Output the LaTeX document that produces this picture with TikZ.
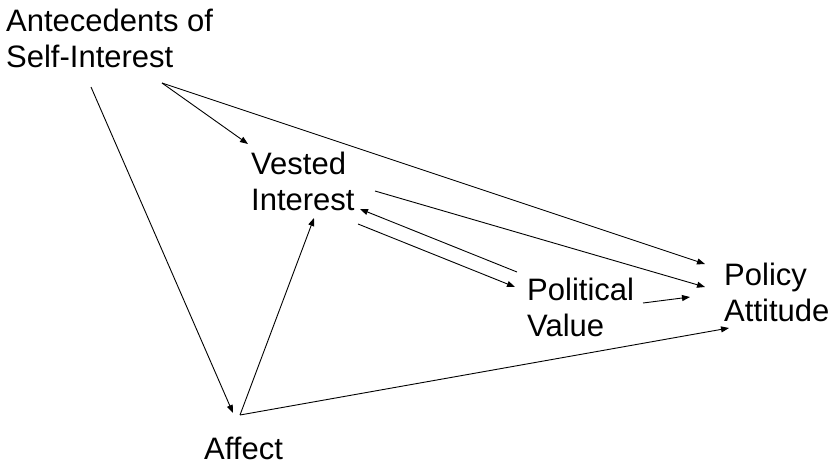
\documentclass[tikz,border=0pt]{standalone}
\usepackage{fontspec}
\setmainfont{Liberation Sans}
\usetikzlibrary{arrows.meta}
\begin{document}
\begin{tikzpicture}[x=1pt,y=-1pt,
  lbl/.style={anchor=west,align=left,inner sep=0pt,font=\fontsize{31}{36}\selectfont},
  conn/.style={line width=0.9pt,-{Triangle[length=8pt,width=6pt]}}]
\useasboundingbox (0,0) rectangle (834,464);
% nodes
\node[lbl] (ante) at (6,38) {Antecedents of\\Self-Interest};
\node[lbl] (vest) at (251,181) {Vested\\Interest};
\node[lbl] (polv) at (527,307) {Political\\Value};
\node[lbl] (pola) at (724,292) {Policy\\Attitude};
\node[lbl] (aff) at (204,448) {Affect};
% connector endpoints
\coordinate (aA) at (91,87);
\coordinate (aB) at (162,83);
\coordinate (affIn) at (233,413);
\coordinate (affOut) at (240,415);
\coordinate (vIn1) at (248,144);
\coordinate (vIn2) at (360,209);
\coordinate (vIn3) at (314,218);
\coordinate (vOut1) at (375,191);
\coordinate (vOut2) at (358,224);
\coordinate (pvIn) at (515,287);
\coordinate (pvOut1) at (517,272);
\coordinate (pvOut2) at (643,303);
\coordinate (paIn1) at (705,264);
\coordinate (paIn2) at (705,287);
\coordinate (paIn3) at (690,297);
\coordinate (paIn4) at (729,328);
% connectors
\draw[conn] (aA) -- (affIn);
\draw[conn] (aB) -- (vIn1);
\draw[conn] (aB) -- (paIn1);
\draw[conn] (vOut1) -- (paIn2);
\draw[conn] (pvOut1) -- (vIn2);
\draw[conn] (vOut2) -- (pvIn);
\draw[conn] (pvOut2) -- (paIn3);
\draw[conn] (affOut) -- (paIn4);
\draw[conn] (affOut) -- (vIn3);
\end{tikzpicture}
\end{document}
